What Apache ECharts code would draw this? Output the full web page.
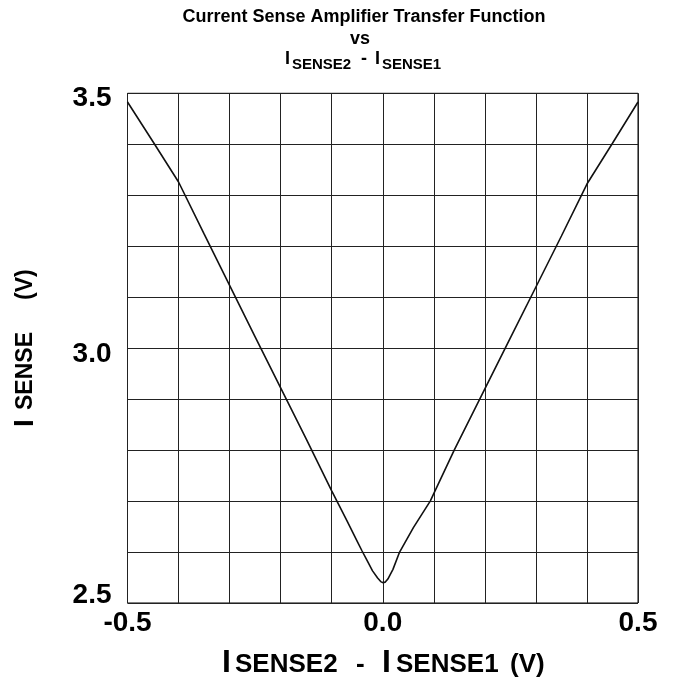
<!DOCTYPE html>
<html><head><meta charset="utf-8">
<script src="https://cdn.jsdelivr.net/npm/echarts@6/dist/echarts.min.js"></script>
<style>html,body{margin:0;padding:0;background:#fff}#c{width:673px;height:679px}</style>
</head><body><div id="c"></div>
<script>
// I_SENSE2 - I_SENSE1 (V)
const diffVoltage = [-0.5, -0.45, -0.4, -0.35, -0.3, -0.25, -0.2, -0.15, -0.1, -0.07, -0.05, -0.041, -0.03, -0.02, -0.01, -0.004, 0, 0.005, 0.01, 0.02, 0.033, 0.06, 0.093, 0.14, 0.2, 0.25, 0.3, 0.35, 0.4, 0.45, 0.5];
// I_SENSE (V)
const senseVoltage = [3.483, 3.405, 3.326, 3.224, 3.123, 3.022, 2.922, 2.822, 2.720, 2.661, 2.621, 2.603, 2.582, 2.563, 2.549, 2.542, 2.540, 2.541, 2.547, 2.566, 2.600, 2.648, 2.700, 2.800, 2.920, 3.020, 3.120, 3.220, 3.322, 3.402, 3.483];
const xTickLabels = ['-0.5', '0.0', '0.5'];
const yTickLabels = ['2.5', '3.0', '3.5'];
const titleLine1 = 'Current Sense Amplifier Transfer Function';
const titleLine2 = 'vs';

const FONT = '"Liberation Sans", Arial, Helvetica, sans-serif';
const chart = echarts.init(document.getElementById('c'), null, {renderer: 'canvas'});

const seriesData = diffVoltage.map((x, i) => [x, senseVoltage[i]]);

function near(a, b) { return Math.abs(a - b) < 1e-6; }

const option = {
  animation: false,
  backgroundColor: '#fff',
  grid: {left: 127.5, right: 35, top: 93.3, bottom: 76, show: true, borderColor: '#000', borderWidth: 1, backgroundColor: 'transparent'},
  xAxis: {
    type: 'value', min: -0.5, max: 0.5, interval: 0.1,
    axisLine: {show: false}, axisTick: {show: false},
    splitLine: {show: true, lineStyle: {color: '#222', width: 1}},
    axisLabel: {
      showMinLabel: true, showMaxLabel: true, margin: 6,
      color: '#000', fontSize: 28, fontWeight: 'bold', fontFamily: FONT,
      formatter: function (v) {
        const vals = [-0.5, 0, 0.5];
        for (let i = 0; i < vals.length; i++) if (near(v, vals[i])) return xTickLabels[i];
        return '';
      }
    }
  },
  yAxis: {
    type: 'value', min: 2.5, max: 3.5, interval: 0.1,
    axisLine: {show: false}, axisTick: {show: false},
    splitLine: {show: true, lineStyle: {color: '#222', width: 1}},
    axisLabel: {
      showMinLabel: true, showMaxLabel: true, margin: 16,
      color: '#000', fontSize: 28, fontWeight: 'bold', fontFamily: FONT,
      formatter: function (v) {
        if (near(v, 2.5)) return '{b|' + yTickLabels[0] + '}';
        if (near(v, 3.0)) return '{m|' + yTickLabels[1] + '}';
        if (near(v, 3.5)) return '{t|' + yTickLabels[2] + '}';
        return '';
      },
      rich: {
        b: {fontSize: 28, fontWeight: 'bold', fontFamily: FONT, color: '#000', padding: [0, 0, 16, 0]},
        m: {fontSize: 28, fontWeight: 'bold', fontFamily: FONT, color: '#000', padding: [13, 0, 0, 0]},
        t: {fontSize: 28, fontWeight: 'bold', fontFamily: FONT, color: '#000', padding: [10, 0, 0, 0]}
      }
    }
  },
  series: [{
    type: 'line', data: seriesData, showSymbol: false, smooth: false,
    lineStyle: {color: '#111', width: 1.6}
  }],
  graphic: [
    {type: 'text', x: 364, y: 17, style: {text: titleLine1, font: 'bold 18px ' + FONT, fill: '#000', align: 'center', verticalAlign: 'middle'}},
    {type: 'text', x: 360, y: 39, style: {text: titleLine2, font: 'bold 18px ' + FONT, fill: '#000', align: 'center', verticalAlign: 'middle'}},
    {type: 'text', x: 285, y: 59, style: {text: 'I', font: 'bold 18px ' + FONT, fill: '#000', align: 'left', verticalAlign: 'middle'}},
    {type: 'text', x: 292, y: 65, style: {text: 'SENSE2', font: 'bold 15px ' + FONT, fill: '#000', align: 'left', verticalAlign: 'middle'}},
    {type: 'text', x: 361, y: 59, style: {text: '-', font: 'bold 18px ' + FONT, fill: '#000', align: 'left', verticalAlign: 'middle'}},
    {type: 'text', x: 375, y: 59, style: {text: 'I', font: 'bold 18px ' + FONT, fill: '#000', align: 'left', verticalAlign: 'middle'}},
    {type: 'text', x: 382, y: 65, style: {text: 'SENSE1', font: 'bold 15px ' + FONT, fill: '#000', align: 'left', verticalAlign: 'middle'}},
    // x axis title
    {type: 'text', x: 222, y: 663, style: {text: 'I', font: 'bold 32px ' + FONT, fill: '#000', align: 'left', verticalAlign: 'middle'}},
    {type: 'text', x: 235, y: 665, style: {text: 'SENSE2', font: 'bold 26px ' + FONT, fill: '#000', align: 'left', verticalAlign: 'middle'}},
    {type: 'text', x: 356, y: 665, style: {text: '-', font: 'bold 26px ' + FONT, fill: '#000', align: 'left', verticalAlign: 'middle'}},
    {type: 'text', x: 382, y: 663, style: {text: 'I', font: 'bold 32px ' + FONT, fill: '#000', align: 'left', verticalAlign: 'middle'}},
    {type: 'text', x: 396, y: 665, style: {text: 'SENSE1', font: 'bold 26px ' + FONT, fill: '#000', align: 'left', verticalAlign: 'middle'}},
    {type: 'text', x: 510, y: 665, style: {text: '(V)', font: 'bold 26px ' + FONT, fill: '#000', align: 'left', verticalAlign: 'middle'}},
    // y axis title (rotated)
    {type: 'text', x: 25, y: 427, rotation: Math.PI / 2, style: {text: 'I', font: 'bold 28px ' + FONT, fill: '#000', align: 'left', verticalAlign: 'middle'}},
    {type: 'text', x: 26, y: 410, rotation: Math.PI / 2, style: {text: 'SENSE', font: 'bold 23px ' + FONT, fill: '#000', align: 'left', verticalAlign: 'middle'}},
    {type: 'text', x: 26, y: 300, rotation: Math.PI / 2, style: {text: '(V)', font: 'bold 23px ' + FONT, fill: '#000', align: 'left', verticalAlign: 'middle'}}
  ]
};
chart.setOption(option);
</script>
</body></html>
